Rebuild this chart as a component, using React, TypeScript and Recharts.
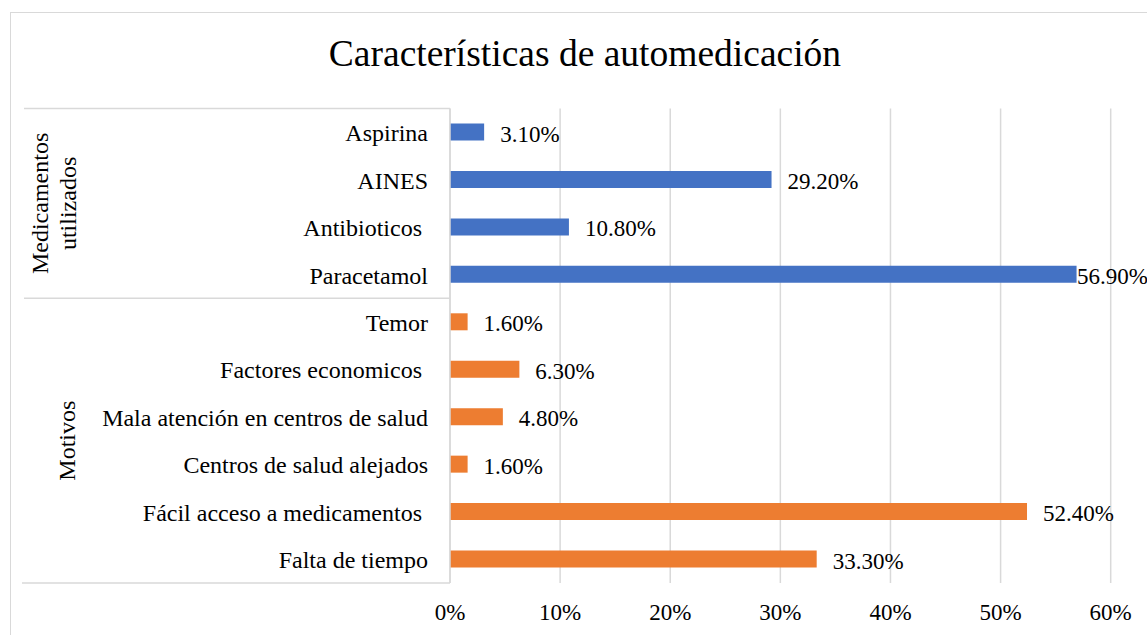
import { BarChart, Bar, XAxis, YAxis, CartesianGrid, Cell, LabelList } from 'recharts'

// datos (porcentajes)
const medicamentos = ['Aspirina', 'AINES', 'Antibioticos ', 'Paracetamol']
const medicamentosPct = [3.1, 29.2, 10.8, 56.9]

const motivos = [
  'Temor',
  'Factores economicos ',
  'Mala atención en centros de salud',
  'Centros de salud alejados',
  'Fácil acceso a medicamentos ',
  'Falta de tiempo',
]
const motivosPct = [1.6, 6.3, 4.8, 1.6, 52.4, 33.3]

const xTicks = [0, 10, 20, 30, 40, 50, 60]
const groupNames = [['Medicamentos', 'utilizados'], ['Motivos']]
const groupColors = ['#4472C4', '#ED7D31']

const W = 1147
const H = 635
const MARGIN = { top: 108.5, right: 36.3, bottom: 12, left: 0 }
const Y_AXIS_W = 450
const X_AXIS_H = 40
const FONT = '"Liberation Serif", "Times New Roman", serif'

const data = [
  ...medicamentos.map((name, i) => ({ name, pct: medicamentosPct[i], group: 0 })),
  ...motivos.map((name, i) => ({ name, pct: motivosPct[i], group: 1 })),
]

const plotTop = MARGIN.top
const plotBottom = H - MARGIN.bottom - X_AXIS_H
const band = (plotBottom - plotTop) / data.length
const groupSizes = [medicamentos.length, motivos.length]

const CategoryTick = ({ x, y, payload }: any) => (
  <text
    x={x}
    y={y + 9}
    textAnchor="end"
    fontSize={24}
    fontFamily={FONT}
    fill="#000"
    style={{ whiteSpace: 'pre' }}
  >
    {payload.value}
  </text>
)

const PctTick = ({ x, y, payload }: any) => (
  <text x={x} y={y + 37} textAnchor="middle" fontSize={23} fontFamily={FONT} fill="#000">
    {`${payload.value}%`}
  </text>
)

const ValueLabel = ({ x, y, width, height, value }: any) => {
  const lx = Math.min(x + width + 16, W - 70)
  return (
    <text x={lx} y={y + height / 2 + 9.5} fontSize={23} fontFamily={FONT} fill="#000">
      {`${value.toFixed(2)}%`}
    </text>
  )
}

function GroupOverlay() {
  let start = plotTop
  const parts = groupSizes.map((n, gi) => {
    const top = start
    const bottom = start + n * band
    start = bottom
    const cy = (top + bottom) / 2
    const lines = groupNames[gi]
    const xs = lines.length === 2 ? [40, 68] : [67]
    return (
      <g key={gi}>
        <line x1={24} x2={Y_AXIS_W} y1={top} y2={top} stroke="#d9d9d9" strokeWidth={1.5} />
        {lines.map((t, li) => (
          <text
            key={li}
            x={xs[li]}
            y={cy}
            transform={`rotate(-90 ${xs[li]} ${cy})`}
            textAnchor="middle"
            dominantBaseline="central"
            fontSize={24}
            fontFamily={FONT}
            fill="#000"
          >
            {t}
          </text>
        ))}
      </g>
    )
  })
  return (
    <svg
      width={W}
      height={H}
      style={{ position: 'absolute', left: 0, top: 0, pointerEvents: 'none' }}
    >
      {parts}
      <line x1={22} x2={Y_AXIS_W} y1={plotBottom} y2={plotBottom} stroke="#d9d9d9" strokeWidth={1.5} />
    </svg>
  )
}

export default function App() {
  return (
    <div style={{ position: 'relative', width: W, height: H, overflow: 'hidden', background: '#fff', fontFamily: FONT }}>
      <style>{'body{margin:0;overflow:hidden}'}</style>
      <div
        style={{
          position: 'absolute',
          left: 10,
          top: 12,
          width: 1200,
          height: 700,
          border: '1px solid #d9d9d9',
        }}
      />
      <div
        style={{
          position: 'absolute',
          left: 0,
          top: 33,
          width: 1170,
          textAlign: 'center',
          fontSize: 37.5,
          color: '#000',
          lineHeight: '42px',
        }}
      >
        Características de automedicación
      </div>
      <div style={{ position: 'absolute', left: 0, top: 0 }}>
        <BarChart width={W} height={H} data={data} layout="vertical" margin={MARGIN}>
          <CartesianGrid vertical horizontal={false} stroke="#d9d9d9" strokeWidth={1.5} />
          <XAxis
            type="number"
            domain={[0, 60]}
            ticks={xTicks}
            height={X_AXIS_H}
            axisLine={false}
            tickLine={false}
            tickSize={0}
            tickMargin={0}
            tick={<PctTick />}
            interval={0}
          />
          <YAxis
            type="category"
            dataKey="name"
            width={Y_AXIS_W}
            axisLine={{ stroke: '#d9d9d9', strokeWidth: 1.5 }}
            tickLine={false}
            tickSize={0}
            tickMargin={22}
            tick={<CategoryTick />}
            interval={0}
          />
          <Bar dataKey="pct" barSize={17} isAnimationActive={false}>
            {data.map((d, i) => (
              <Cell key={i} fill={groupColors[d.group]} />
            ))}
            <LabelList dataKey="pct" content={<ValueLabel />} />
          </Bar>
        </BarChart>
      </div>
      <GroupOverlay />
    </div>
  )
}
